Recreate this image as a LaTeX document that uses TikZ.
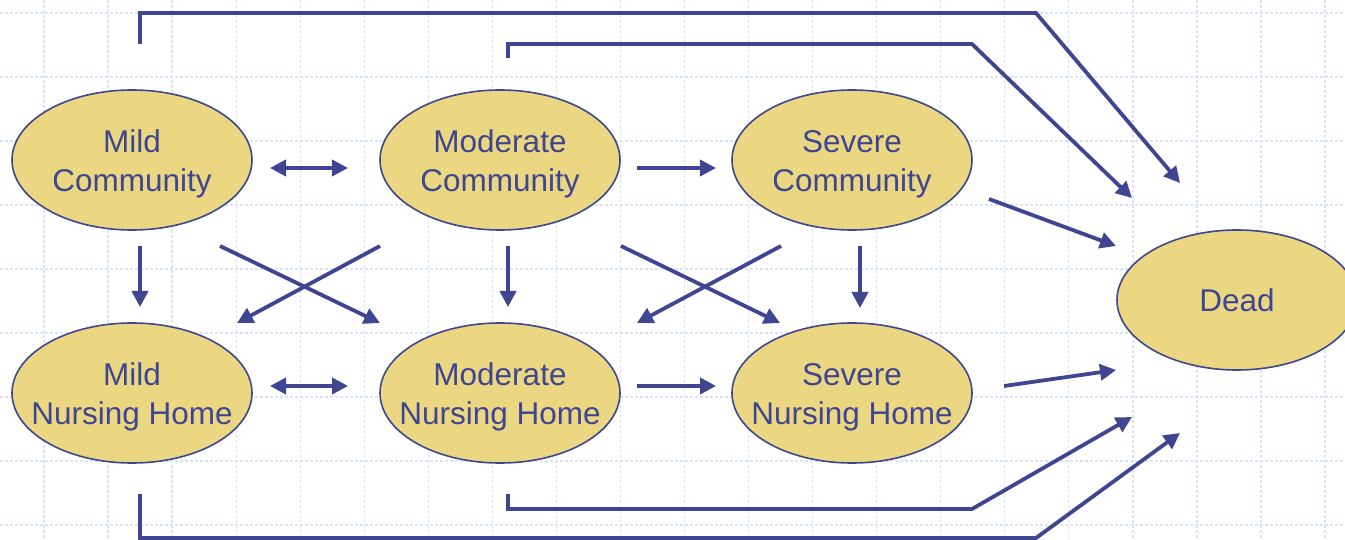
\documentclass[tikz,border=0pt]{standalone}
\usepackage{fontspec}
\setmainfont{Liberation Sans}
\usetikzlibrary{shapes.geometric,arrows.meta,calc}

\definecolor{ink}{RGB}{62,70,145}
\definecolor{statefill}{RGB}{235,215,130}
\definecolor{gridblue}{RGB}{218,226,250}

% strut for the first line of a two-line state label
\newcommand{\firstline}{\rule{0pt}{1em}}

\tikzset{
  x=1pt, y=-1pt,
  state/.style={ellipse, draw=ink, line width=1.6pt, fill=statefill,
    minimum width=240pt, minimum height=140pt, inner xsep=-45pt, inner ysep=-12pt,
    text=ink, align=center, font=\fontsize{31.5}{39}\selectfont},
  arr/.style={draw=ink, line width=3.8pt, -{Triangle[length=16pt,width=16pt]}},
  biarr/.style={draw=ink, line width=3.8pt, {Triangle[length=16pt,width=16pt]}-{Triangle[length=16pt,width=16pt]}},
  link/.style={draw=ink, line width=3.8pt, -{Triangle[length=16pt,width=16pt]}},
  gridline/.style={draw=gridblue, line width=1.3pt, dash pattern=on 3pt off 2pt}
}

\begin{document}
\begin{tikzpicture}
\useasboundingbox (0,0) rectangle (1345,540);
\clip (0,0) rectangle (1345,540);
\fill[white] (0,0) rectangle (1345,540);

% background grid
\foreach \i in {0,...,20} \draw[gridline] ({44+64.05*\i},0) -- ({44+64.05*\i},540);
\foreach \j in {0,...,8} \draw[gridline] (0,{13+64*\j}) -- (1345,{13+64*\j});

% states
\node[state] (mc) at (132,160) {\firstline Mild\\Community};
\node[state] (oc) at (500,160) {\firstline Moderate\\Community};
\node[state] (sc) at (852,160) {\firstline Severe\\Community};
\node[state] (mn) at (132,393) {\firstline Mild\\Nursing Home};
\node[state] (on) at (500,393) {\firstline Moderate\\Nursing Home};
\node[state] (sn) at (852,393) {\firstline Severe\\Nursing Home};
\node[state] (dead) at (1237,300) {Dead};

% corners of the long routes to Dead
\coordinate (ta) at (1036,13);
\coordinate (tb) at (972,44);
\coordinate (ba) at (972,509);
\coordinate (bb) at (1036,538);

% moves between neighbouring states
\draw[biarr] ($(mc)+(138,8)$) -- ($(oc)+(-152,8)$);
\draw[biarr] ($(mn)+(138,-7)$) -- ($(on)+(-152,-7)$);
\draw[arr] ($(oc)+(137,8)$) -- ($(sc)+(-136,8)$);
\draw[arr] ($(on)+(137,-7)$) -- ($(sn)+(-136,-7)$);

\draw[arr] ($(mc)+(8,86)$) -- ($(mn)+(8,-86)$);
\draw[arr] ($(oc)+(8,86)$) -- ($(on)+(8,-86)$);
\draw[arr] ($(sc)+(8,86)$) -- ($(sn)+(8,-85)$);

\draw[arr] ($(mc)+(88,86)$) -- ($(on)+(-120,-70)$);
\draw[arr] ($(oc)+(-120,86)$) -- ($(mn)+(105,-70)$);
\draw[arr] ($(oc)+(121,86)$) -- ($(sn)+(-72,-70)$);
\draw[arr] ($(sc)+(-71,86)$) -- ($(on)+(137,-70)$);

% transitions to Dead
\draw[arr] ($(sc)+(137,39)$) -- ($(dead)+(-121,-54)$);
\draw[arr] ($(sn)+(152,-7)$) -- ($(dead)+(-121,70)$);

\draw[link] ($(mc)+(8,-116)$) |- (ta) -- ($(dead)+(-57,-117)$);
\draw[link] ($(oc)+(8,-102)$) |- (tb) -- ($(dead)+(-105,-102)$);
\draw[link] ($(on)+(8,101)$) |- (ba) -- ($(dead)+(-105,117)$);
\draw[link] ($(mn)+(8,101)$) |- (bb) -- ($(dead)+(-57,133)$);
\end{tikzpicture}
\end{document}
